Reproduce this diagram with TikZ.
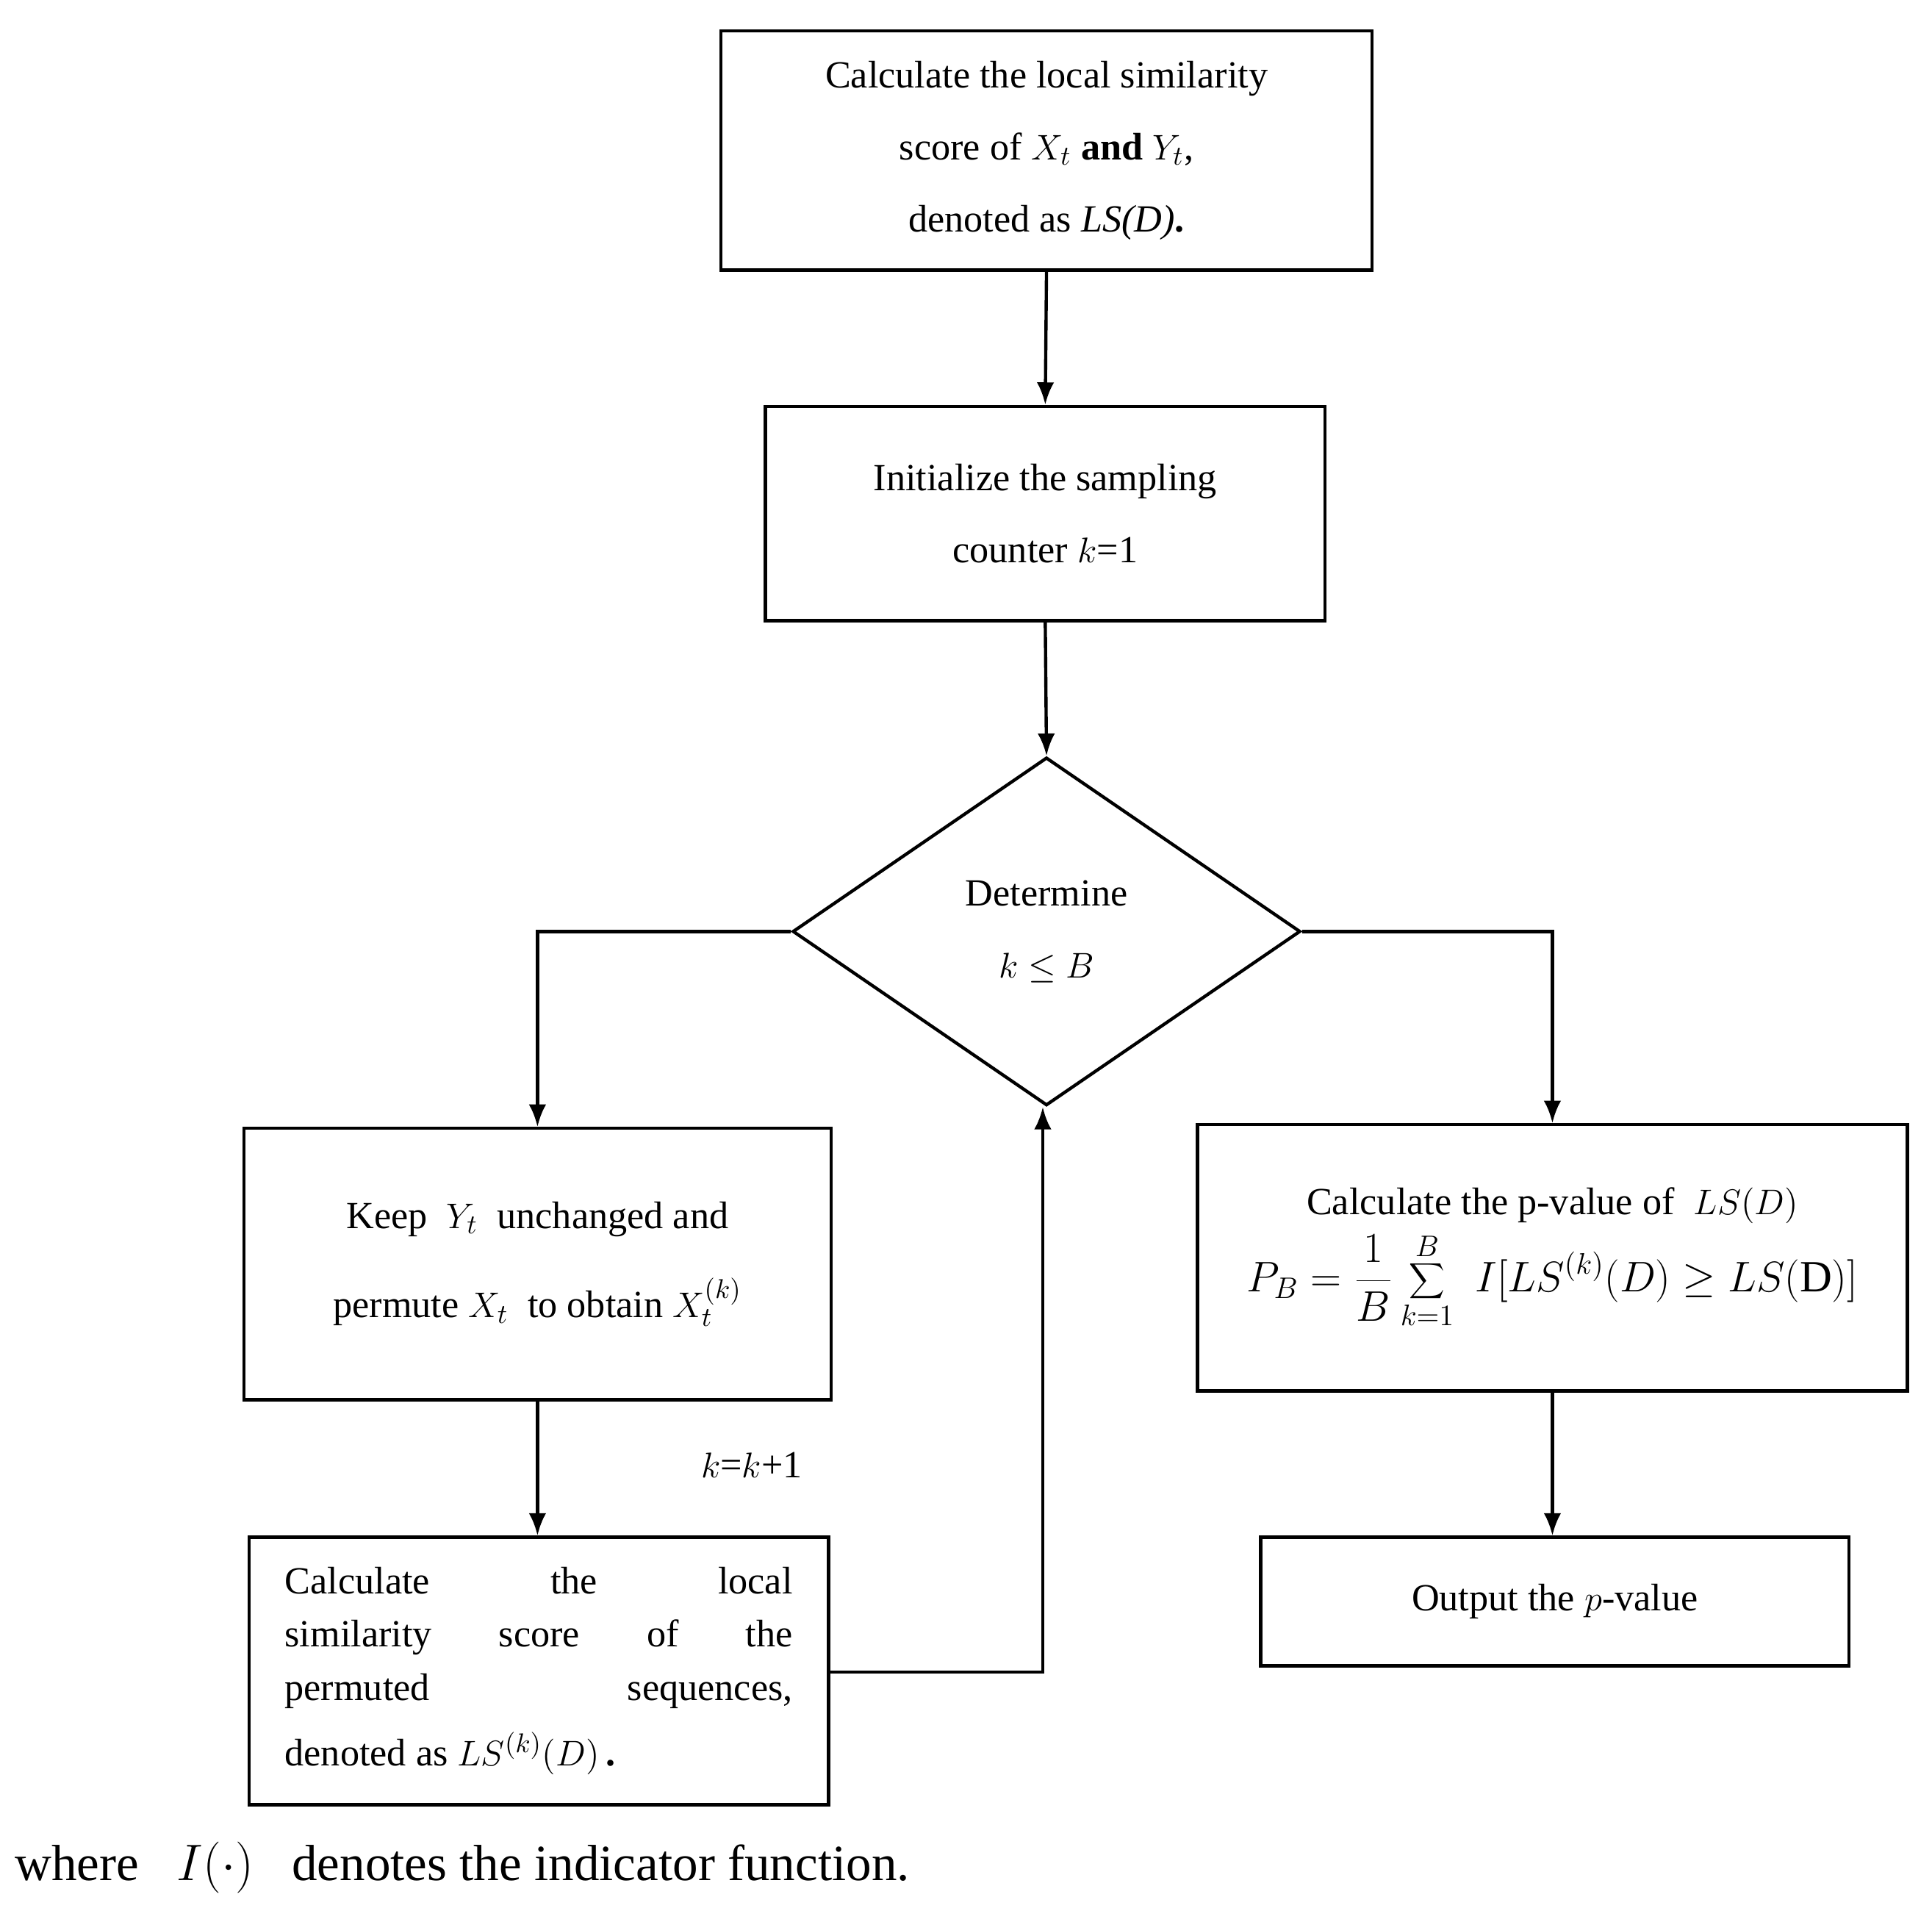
\documentclass[tikz,border=0pt]{standalone}
\usepackage{fontspec}
\setmainfont{Liberation Serif}
\usetikzlibrary{shapes.geometric,arrows.meta}
\newcommand{\jl}[1]{\hbox to 205pt{#1}}
\begin{document}
\begin{tikzpicture}[x=0.5pt,y=-0.5pt,
  box/.style={draw,line width=1.3pt,rectangle,inner sep=0pt,align=center,font=\fontsize{15.5}{29}\selectfont},
  arr/.style={line width=1.3pt,-{Latex[length=9pt,width=7pt]}},
  ln/.style={line width=1.3pt}]
\useasboundingbox (0,0) rectangle (1560,1540);
\node[box,minimum width=263pt,minimum height=96.5pt] (b1) at (845,121.5)
 {Calculate the local similarity\\ score of $X_t$ \textbf{and} $Y_t$,\\ denoted as \textit{LS(D)}\textbf{.}};
\node[box,minimum width=226pt,minimum height=86.5pt] (b2) at (844,414.5)
 {Initialize the sampling\\ counter $k$=1};
\node[draw,line width=1.3pt,diamond,minimum width=205pt,minimum height=140.5pt,inner sep=0pt,align=center,font=\fontsize{15.5}{29}\selectfont] (d) at (845,752)
 {Determine\\ $k\le B$};
\node[box,minimum width=237pt,minimum height=109.5pt,font=\fontsize{15.5}{36}\selectfont] (b3) at (434,1020.5)
 {Keep\ \ $Y_t$\ \ unchanged and\\ permute $X_t$\ \ to obtain $X_t^{(k)}$};
\node[draw,line width=1.3pt,minimum width=234pt,minimum height=108pt,inner sep=0pt] (b4) at (435,1349) {};
\node[align=left,font=\fontsize{15.5}{21.5}\selectfont,inner sep=0pt] at (b4.center)
 {\jl{Calculate\hfill the\hfill local}\\ \jl{similarity\hfill score\hfill of\hfill the}\\ \jl{permuted\hfill sequences,}\\[5pt] \jl{denoted as $LS^{(k)}(D)$\,\textbf{.}\hfill}};
\node[box,minimum width=286.5pt,minimum height=107.5pt] (b5) at (1253.5,1015.5)
 {Calculate the p-value of\ \ $LS(D)$\\[2pt] {\fontsize{18}{22}\selectfont$\displaystyle P_B=\frac{1}{B}\sum_{k=1}^{B}\,\, I[LS^{(k)}(D)\ge LS(\mathrm{D})]$}};
\node[box,minimum width=237.5pt,minimum height=52pt] (b6) at (1255.5,1293)
 {Output the $p$-value};
\node[font=\fontsize{15.5}{18}\selectfont] (kk) at (607,1183) {$k$=$k$+1};
\node[anchor=west,font=\fontsize{20.5}{24}\selectfont] (foot) at (5,1508) {where\ \ \ $I(\cdot)$\ \ \ denotes the indicator function.};
\draw[arr] (b1.south) -- (b2.south |- b2.north);
\draw[arr] (b2.south) -- (d.north);
\draw[arr] (d.west) -| (b3.north);
\draw[arr] (d.east) -| (b5.north);
\draw[arr] (b3.south) -- (b4.north -| b3.south);
\coordinate (c1) at (842,1350);
\draw[arr] (b4.east |- c1) -- (c1) -- (d.south -| c1);
\draw[arr] (b5.south) -- (b6.north -| b5.south);
\end{tikzpicture}
\end{document}
